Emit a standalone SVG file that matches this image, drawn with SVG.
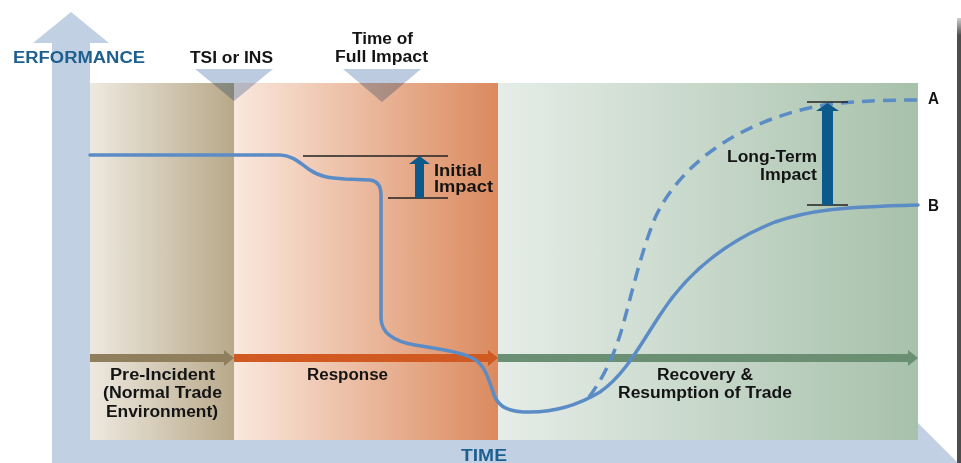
<svg xmlns="http://www.w3.org/2000/svg" width="961" height="463" viewBox="0 0 961 463">
<defs>
<linearGradient id="gPre" x1="0" y1="0" x2="1" y2="0"><stop offset="0" stop-color="#eee9e0"/><stop offset="1" stop-color="#b8a98a"/></linearGradient>
<linearGradient id="gResp" x1="0" y1="0" x2="1" y2="0"><stop offset="0" stop-color="#fae8de"/><stop offset="1" stop-color="#db8a5e"/></linearGradient>
<linearGradient id="gRec" x1="0" y1="0" x2="1" y2="0"><stop offset="0" stop-color="#e6ede8"/><stop offset="1" stop-color="#a7c1ab"/></linearGradient>
<linearGradient id="gEdge" x1="0" y1="0" x2="0" y2="1"><stop offset="0" stop-color="#d0d0d0"/><stop offset="0.04" stop-color="#4d4d4d"/><stop offset="1" stop-color="#4d4d4d"/></linearGradient>
<style>
.t{font-family:"Liberation Sans Narrow","Liberation Sans",Arial,sans-serif;font-weight:bold;font-size:16px;fill:#141414}
.ax{font-family:"Liberation Sans Narrow","Liberation Sans",Arial,sans-serif;font-weight:bold;font-size:16px;fill:#1d5f8f}
.axis{fill:#c2d0e3}
.tri{fill:#bccbe0;mix-blend-mode:multiply}
.curve{fill:none;stroke:#5b8cc5;stroke-width:3.5;stroke-linecap:round;stroke-linejoin:round}
.dash{stroke-dasharray:13 8;stroke-linecap:butt}
.bar{stroke:#222;stroke-width:1.5}
.imp{fill:#0c5a8c}
</style>
</defs>
<rect width="961" height="463" fill="#ffffff"/>
<g id="axes">
<path class="axis" d="M52,463 L52,43 L33,43 L71,12 L109,43 L90,43 L90,440 L918,440 L918,423 L958,463 Z"/>
<rect x="957" y="18" width="4" height="445" fill="url(#gEdge)"/>
</g>
<g id="panels">
<rect id="pre-incident" x="90" y="83" width="144" height="357" fill="url(#gPre)"/>
<rect id="response" x="234" y="83" width="264" height="357" fill="url(#gResp)"/>
<rect id="recovery" x="498" y="83" width="420" height="357" fill="url(#gRec)"/>
</g>
<g id="markers">
<polygon id="tsi-marker" class="tri" points="195,69 273,69 234,101"/>
<polygon id="full-impact-marker" class="tri" points="343,69 421,69 382,102"/>
</g>
<g id="connectors">
<g id="phase-arrows">
<path d="M90,354 L224,354 L224,350 L234,358 L224,366 L224,362 L90,362 Z" fill="#8f7f5c"/>
<path d="M234,354 L488,354 L488,350 L498,358 L488,366 L488,362 L234,362 Z" fill="#d05a22"/>
<path d="M498,354 L908,354 L908,350 L918,358 L908,366 L908,362 L498,362 Z" fill="#6a8f73"/>
</g>
<path id="curve-b" class="curve" d="M90,155 L280,155 C292,155 300,163 310,170 C320,177 330,178 345,179 L370,180 C378,181 381,186 381,195 L381,318 C381,332 392,341 415,345 C440,349 460,352 472,358 C485,364 489,380 494,395 C499,408 510,412 530,412 C555,412 580,404 600,392 C625,375 640,345 660,315 C690,268 730,240 775,222 C810,210 840,207 918,205"/>
<path id="curve-a" class="curve dash" d="M589,397 C602,380 613,358 621,332 C631,297 641,252 655,218 C668,190 690,165 720,145 C750,125 790,110 830,104 C860,101 890,100 918,100"/>
<g id="initial-impact-arrow">
<line class="bar" x1="303" y1="156" x2="448" y2="156"/>
<line class="bar" x1="388" y1="198" x2="448" y2="198"/>
<path class="imp" d="M415,198 L415,164 L409,164 L419.5,156 L430,164 L424,164 L424,198 Z"/>
</g>
<g id="long-term-impact-arrow">
<line class="bar" x1="807" y1="102" x2="848" y2="102"/>
<line class="bar" x1="807" y1="205" x2="848" y2="205"/>
<path class="imp" d="M822,205 L822,111 L816,111 L827.5,103 L839,111 L833,111 L833,205 Z"/>
</g>
</g>
<g id="labels">
<text class="ax" x="13" y="63" textLength="132" lengthAdjust="spacingAndGlyphs">ERFORMANCE</text>
<text class="ax" x="461" y="461" textLength="46" lengthAdjust="spacingAndGlyphs">TIME</text>
<text class="t" x="190" y="63" font-size="17" textLength="83" lengthAdjust="spacingAndGlyphs">TSI or INS</text>
<text class="t" x="352" y="44" textLength="61" lengthAdjust="spacingAndGlyphs">Time of</text>
<text class="t" x="335" y="62" textLength="93" lengthAdjust="spacingAndGlyphs">Full Impact</text>
<text class="t" x="434" y="176" textLength="48" lengthAdjust="spacingAndGlyphs">Initial</text>
<text class="t" x="434" y="192" textLength="59" lengthAdjust="spacingAndGlyphs">Impact</text>
<text class="t" x="727" y="162" textLength="90" lengthAdjust="spacingAndGlyphs">Long-Term</text>
<text class="t" x="760" y="180" textLength="57" lengthAdjust="spacingAndGlyphs">Impact</text>
<text class="t" x="928" y="104" textLength="11" lengthAdjust="spacingAndGlyphs">A</text>
<text class="t" x="928" y="211" textLength="11" lengthAdjust="spacingAndGlyphs">B</text>
<text class="t" x="110" y="380" textLength="105" lengthAdjust="spacingAndGlyphs">Pre-Incident</text>
<text class="t" x="103" y="398" textLength="119" lengthAdjust="spacingAndGlyphs">(Normal Trade</text>
<text class="t" x="106" y="417" textLength="112" lengthAdjust="spacingAndGlyphs">Environment)</text>
<text class="t" x="307" y="380" textLength="81" lengthAdjust="spacingAndGlyphs">Response</text>
<text class="t" x="657" y="380" textLength="96" lengthAdjust="spacingAndGlyphs">Recovery &amp;</text>
<text class="t" x="618" y="398" textLength="174" lengthAdjust="spacingAndGlyphs">Resumption of Trade</text>
</g>
</svg>
